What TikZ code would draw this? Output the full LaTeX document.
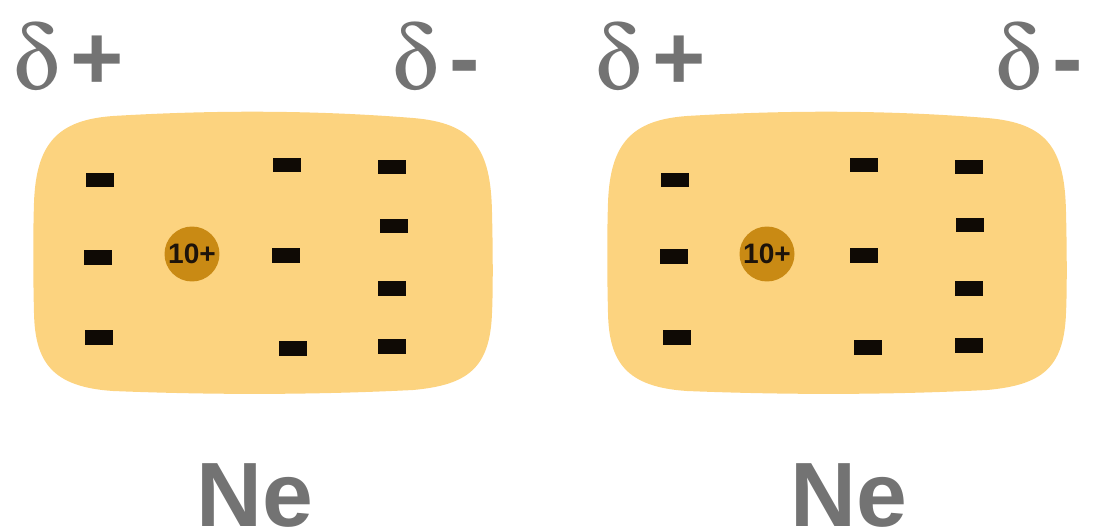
\documentclass[tikz,border=0pt]{standalone}
\usepackage{fix-cm}
\usepackage[Symbol]{upgreek}
\usepackage{fontspec}
\setmainfont{Liberation Sans}
\usepackage{xcolor}
\definecolor{cloudOrange}{HTML}{FCD37F}
\definecolor{coreOrange}{HTML}{C98A14}
\definecolor{labelGray}{HTML}{737373}
\newcommand{\partialcharge}[1]{$\updelta$\kern7pt\textbf{#1}}
\tikzset{
  cloudShape/.style={fill=cloudOrange,draw=none},
  nucleusNode/.style={circle,fill=coreOrange,inner sep=0pt,minimum size=1.1cm,
    font=\fontsize{16}{16}\selectfont\bfseries,text=black!85!brown},
  electronBar/.style={rectangle,fill=black!92!brown,inner sep=0pt,minimum width=0.56cm,minimum height=0.3cm},
  deltaLabel/.style={anchor=base west,inner sep=0pt,text=labelGray,font=\fontsize{52}{52}\selectfont},
  atomLabel/.style={anchor=base,inner sep=0pt,text=labelGray,font=\fontsize{52}{52}\selectfont\bfseries}
}

\begin{document}
\begin{tikzpicture}[x=0.02cm,y=-0.02cm]
        \useasboundingbox (0,0) rectangle (1097,530);

        % electron clouds
        \begin{scope}[shift={(263,253)}]
          \path[cloudShape] (-150,-137) .. controls (-50,-143) and (50,-143) .. (150,-135)
            .. controls (210,-130) and (228,-105) .. (229,-40)
            .. controls (230,0) and (230,40) .. (229,60)
            .. controls (227,115) and (205,132) .. (150,137)
            .. controls (50,142) and (-50,142) .. (-150,138)
            .. controls (-210,134) and (-228,110) .. (-229,60)
            .. controls (-230,20) and (-230,-20) .. (-229,-50)
            .. controls (-227,-110) and (-205,-133) .. (-150,-137) -- cycle;
        \end{scope}
        \begin{scope}[shift={(837,253)}]
          \path[cloudShape] (-150,-137) .. controls (-50,-143) and (50,-143) .. (150,-135)
            .. controls (210,-130) and (228,-105) .. (229,-40)
            .. controls (230,0) and (230,40) .. (229,60)
            .. controls (227,115) and (205,132) .. (150,137)
            .. controls (50,142) and (-50,142) .. (-150,138)
            .. controls (-210,134) and (-228,110) .. (-229,60)
            .. controls (-230,20) and (-230,-20) .. (-229,-50)
            .. controls (-227,-110) and (-205,-133) .. (-150,-137) -- cycle;
        \end{scope}

        % left atom
        \node (nucA) [nucleusNode] at (192,254) {10+};
        \node (a1) [electronBar] at (100,180) {};
        \node (a2) [electronBar] at (98,257) {};
        \node (a3) [electronBar] at (99,337) {};
        \node (a4) [electronBar] at (287,165) {};
        \node (a5) [electronBar] at (286,255) {};
        \node (a6) [electronBar] at (293,348) {};
        \node (a7) [electronBar] at (392,167) {};
        \node (a8) [electronBar] at (394,226) {};
        \node (a9) [electronBar] at (392,288) {};
        \node (a10) [electronBar] at (392,346) {};

        % right atom
        \node (nucB) [nucleusNode] at (767,254) {10+};
        \node (b1) [electronBar] at (675,180) {};
        \node (b2) [electronBar] at (674,256) {};
        \node (b3) [electronBar] at (677,337) {};
        \node (b4) [electronBar] at (864,165) {};
        \node (b5) [electronBar] at (864,255) {};
        \node (b6) [electronBar] at (868,347) {};
        \node (b7) [electronBar] at (969,167) {};
        \node (b8) [electronBar] at (970,225) {};
        \node (b9) [electronBar] at (969,288) {};
        \node (b10) [electronBar] at (969,345) {};

        % partial charges
        \node (posA) [deltaLabel] at (13,90) {\partialcharge{+}};
        \node (negA) [deltaLabel] at (392,90) {\partialcharge{-}};
        \node (posB) [deltaLabel] at (595,90) {\partialcharge{+}};
        \node (negB) [deltaLabel] at (995,90) {\partialcharge{-}};

        % element symbols
        \node (neA) [atomLabel] at (255,526) {Ne};
        \node (neB) [atomLabel] at (849,526) {Ne};
\end{tikzpicture}
\end{document}
